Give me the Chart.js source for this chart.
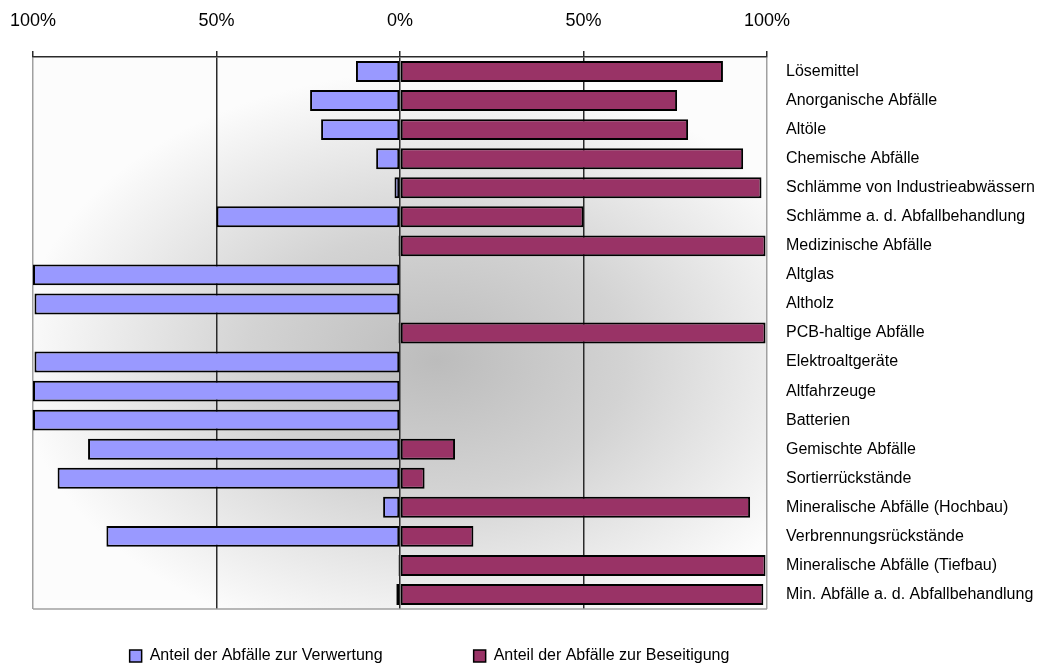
<!DOCTYPE html>
<html lang="de">
<head>
<meta charset="utf-8">
<title>Verwertung und Beseitigung von Abfällen</title>
<script src="https://cdn.jsdelivr.net/npm/chart.js@4.4.1/dist/chart.umd.min.js"></script>
<style>
  html, body { margin: 0; padding: 0; background: #ffffff; }
  #wrap { width: 1038px; height: 665px; position: relative; }
</style>
</head>
<body>
<div id="wrap"><canvas id="chart" width="1038" height="665"></canvas></div>
<script>
// Abfallarten (von oben nach unten)
const categories = [
  'Lösemittel',
  'Anorganische Abfälle',
  'Altöle',
  'Chemische Abfälle',
  'Schlämme von Industrieabwässern',
  'Schlämme a. d. Abfallbehandlung',
  'Medizinische Abfälle',
  'Altglas',
  'Altholz',
  'PCB-haltige Abfälle',
  'Elektroaltgeräte',
  'Altfahrzeuge',
  'Batterien',
  'Gemischte Abfälle',
  'Sortierrückstände',
  'Mineralische Abfälle (Hochbau)',
  'Verbrennungsrückstände',
  'Mineralische Abfälle (Tiefbau)',
  'Min. Abfälle a. d. Abfallbehandlung'
];

// Anteil zur Verwertung in % (nach links aufgetragen)
const verwertung = [12, 24.5, 21.5, 6.5, 1.5, 50, 0.4, 100, 99.6, 0.4, 99.6, 100, 100, 85, 93.3, 4.6, 80, 0.4, 1];

// Anteil zur Beseitigung in % (nach rechts aufgetragen)
const beseitigung = [88, 75.5, 78.5, 93.5, 98.5, 50, 99.6, 0, 0, 99.6, 0, 0, 0, 15, 6.7, 95.4, 20, 99.6, 99];

// Achsenbeschriftung oben
const tickValues = [-100, -50, 0, 50, 100];
const tickLabels = ['100%', '50%', '0%', '50%', '100%'];

const seriesNames = ['Anteil der Abfälle zur Verwertung', 'Anteil der Abfälle zur Beseitigung'];

const fontFamily = "'Liberation Sans', Arial, sans-serif";

// Grauer Verlauf hinter der Zeichenfläche, unterer Rahmen, Lage der Legende
const plotBackground = {
  id: 'plotBackground',
  beforeDraw(chart) {
    const { ctx, chartArea: a } = chart;
    const cx = a.left + (a.right - a.left) * 0.55;
    const cy = a.top + (a.bottom - a.top) * 0.55;
    const rx = 420, ry = 290;
    ctx.save();
    ctx.beginPath();
    ctx.rect(a.left, a.top, a.right - a.left, a.bottom - a.top);
    ctx.clip();
    ctx.fillStyle = '#fcfcfc';
    ctx.fillRect(a.left, a.top, a.right - a.left, a.bottom - a.top);
    ctx.translate(cx, cy);
    ctx.scale(rx / ry, 1);
    const g = ctx.createRadialGradient(0, 0, 0, 0, 0, ry);
    g.addColorStop(0, '#bcbcbc');
    g.addColorStop(0.45, '#d3d3d3');
    g.addColorStop(0.8, '#ededed');
    g.addColorStop(1, '#fcfcfc');
    ctx.fillStyle = g;
    ctx.fillRect(-ry * 2, -ry * 2, ry * 4, ry * 4);
    ctx.restore();
  },
  afterDraw(chart) {
    const { ctx, chartArea: a } = chart;
    ctx.save();
    ctx.strokeStyle = '#a0a0a0';
    ctx.lineWidth = 1.5;
    ctx.beginPath();
    ctx.moveTo(a.left, a.bottom);
    ctx.lineTo(a.right, a.bottom);
    ctx.stroke();
    ctx.restore();
  },
  afterLayout(chart) {
    const lg = chart.legend;
    if (!lg) return;
    const pad = lg.options.labels.padding;
    lg.top = 648 - pad;
    lg.bottom = chart.height;
    lg.height = lg.bottom - lg.top;
    lg.left = 0;
    lg.right = 859;
    lg.width = 859;
  }
};

new Chart(document.getElementById('chart'), {
  type: 'bar',
  data: {
    labels: categories,
    datasets: [
      {
        label: seriesNames[0],
        data: verwertung.map(v => -v),
        backgroundColor: '#9999ff',
        borderColor: '#000000',
        borderWidth: 2,
        borderSkipped: false
      },
      {
        label: seriesNames[1],
        data: beseitigung,
        backgroundColor: '#993366',
        borderColor: '#000000',
        borderWidth: 2,
        borderSkipped: false
      }
    ]
  },
  options: {
    indexAxis: 'y',
    responsive: false,
    animation: false,
    devicePixelRatio: 1,
    layout: { padding: { left: 33, right: 0, top: 0, bottom: 0 } },
    datasets: { bar: { categoryPercentage: 1, barPercentage: 0.72 } },
    scales: {
      x: {
        position: 'top',
        stacked: true,
        min: -100,
        max: 100,
        afterBuildTicks(scale) {
          scale.ticks = tickValues.map(v => ({ value: v }));
        },
        afterFit(scale) {
          scale.height = 57;
          scale.paddingLeft = 0;
          scale.paddingRight = 0;
        },
        ticks: {
          padding: 19,
          color: '#000000',
          font: { family: fontFamily, size: 18 },
          callback(value) {
            const i = tickValues.indexOf(value);
            return i >= 0 ? tickLabels[i] : '';
          }
        },
        grid: {
          color(ctx) {
            const v = ctx.tick && ctx.tick.value;
            return (v === -100 || v === 100) ? '#a0a0a0' : '#2a2a2a';
          },
          lineWidth: 1.5,
          tickLength: 6,
          tickColor: '#2a2a2a',
          tickWidth: 1.5
        },
        border: { display: true, color: '#2a2a2a', width: 1.5 }
      },
      y: {
        position: 'right',
        stacked: true,
        afterFit(scale) { scale.width = 271; },
        ticks: {
          padding: 19,
          color: '#000000',
          font: { family: fontFamily, size: 16 },
          autoSkip: false
        },
        grid: { display: false, drawTicks: false },
        border: { display: false }
      }
    },
    plugins: {
      legend: {
        position: 'bottom',
        maxHeight: 56,
        labels: {
          boxWidth: 12,
          boxHeight: 12,
          padding: 91,
          color: '#000000',
          font: { family: fontFamily, size: 16 },
          generateLabels(chart) {
            return chart.data.datasets.map((ds, i) => ({
              text: ds.label,
              fillStyle: ds.backgroundColor,
              strokeStyle: '#000000',
              lineWidth: 1.5,
              hidden: false,
              datasetIndex: i
            }));
          }
        }
      },
      tooltip: { enabled: false }
    }
  },
  plugins: [plotBackground]
});
</script>
</body>
</html>
